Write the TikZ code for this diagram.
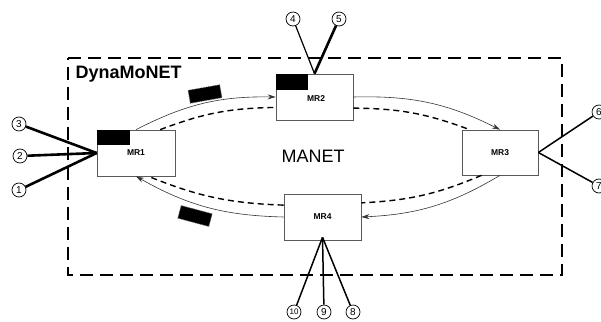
\documentclass[tikz,border=0pt]{standalone}
\usepackage{fontspec}
\setmainfont{Liberation Sans}
\usetikzlibrary{arrows.meta}
\begin{document}
\begin{tikzpicture}[x=1pt,y=-1pt,
  mrbox/.style={draw=black!65,line width=0.7pt,fill=white,inner sep=0pt,font=\fontsize{8.5}{10}\selectfont\bfseries},
  num/.style={circle,draw,line width=0.7pt,inner sep=0pt,minimum size=14pt,font=\fontsize{10}{11}\selectfont},
  flow/.style={draw=black!80,line width=0.6pt,-{Stealth[length=8pt,width=5pt]}},
  back/.style={draw=black,line width=1.4pt,dash pattern=on 6pt off 4pt},
  thickln/.style={line width=2.6pt},
  medln/.style={line width=1.5pt},
  noise/.style={fill=black,draw=black!70,line width=0.8pt,densely dotted}
]
\useasboundingbox (0,0) rectangle (601,321);
% DynaMoNET border
\draw[line width=2.8pt,dash pattern=on 13pt off 7pt] (68,58) -- (562,58) -- (562,275) -- (68,275) -- cycle;
\node[anchor=west,font=\fontsize{18}{20}\selectfont\bfseries] (dyn) at (72,74) {DynaMoNET};
\node[font=\fontsize{18}{20}\selectfont] (manet) at (313,156) {MANET};
% boxes
\node[mrbox,minimum width=78pt,minimum height=46pt] (mr1) at (136,153) {MR1};
\node[mrbox,minimum width=77pt,minimum height=46pt] (mr2) at (314.5,97) {};
\node[mrbox,minimum width=76pt,minimum height=45pt] (mr3) at (500,152.5) {MR3};
\node[mrbox,minimum width=77pt,minimum height=46pt] (mr4) at (322.5,217) {MR4};
% black strips
\fill (mr1.north west) rectangle ++(33,15);
\fill (mr2.north west) rectangle ++(32,16);
\node[font=\fontsize{8.5}{10}\selectfont\bfseries] (mr2lbl) at (316,99) {MR2};
% noise blocks
\node[noise,minimum width=32pt,minimum height=13pt,rotate=10] (n1) at (205,94) {};
\node[noise,minimum width=32pt,minimum height=13pt,rotate=-15] (n2) at (195,216) {};
% solid flows
\draw[flow] (mr1.north) to[bend left=14] (mr2.west);
\draw[flow] (mr2.east) to[bend left=14] (mr3.north);
\draw[flow] (mr3.south) to[bend left=14] (mr4.east);
\draw[flow] (mr4.west) to[bend left=14] (mr1.south);
% dashed return paths
\draw[back] (mr1.44) to[bend left=10] (mr2.195);
\draw[back] (mr2.344) to[bend left=10] (mr3.143);
\draw[back] (mr3.231) to[bend left=10] (mr4.20);
\draw[back] (mr4.163) to[bend left=10] (mr1.298);
% numbered interfaces
\node[num] (c3) at (19,124) {3};
\node[num] (c2) at (20,156) {2};
\node[num] (c1) at (19,190) {1};
\node[num] (c4) at (293,19) {4};
\node[num] (c5) at (339,19) {5};
\node[num] (c6) at (599,112) {6};
\node[num] (c7) at (599,186) {7};
\node[num,font=\fontsize{8}{9}\selectfont] (c10) at (294,312) {10};
\node[num] (c9) at (324,312) {9};
\node[num] (c8) at (353,312) {8};
\draw[thickln] (c3) -- (mr1.west);
\draw[thickln] (c2) -- (mr1.west);
\draw[thickln] (c1) -- (mr1.west);
\draw[line width=1.2pt] (c4) -- (mr2.north);
\draw[thickln] (c5) -- (mr2.north);
\draw[medln] (c6) -- (mr3.east);
\draw[medln] (c7) -- (mr3.east);
\coordinate (mr4b) at ([yshift=3pt]mr4.south);
\draw[medln] (c10) -- (mr4b);
\draw[medln] (c9) -- (mr4b);
\draw[medln] (c8) -- (mr4b);
\end{tikzpicture}
\end{document}
